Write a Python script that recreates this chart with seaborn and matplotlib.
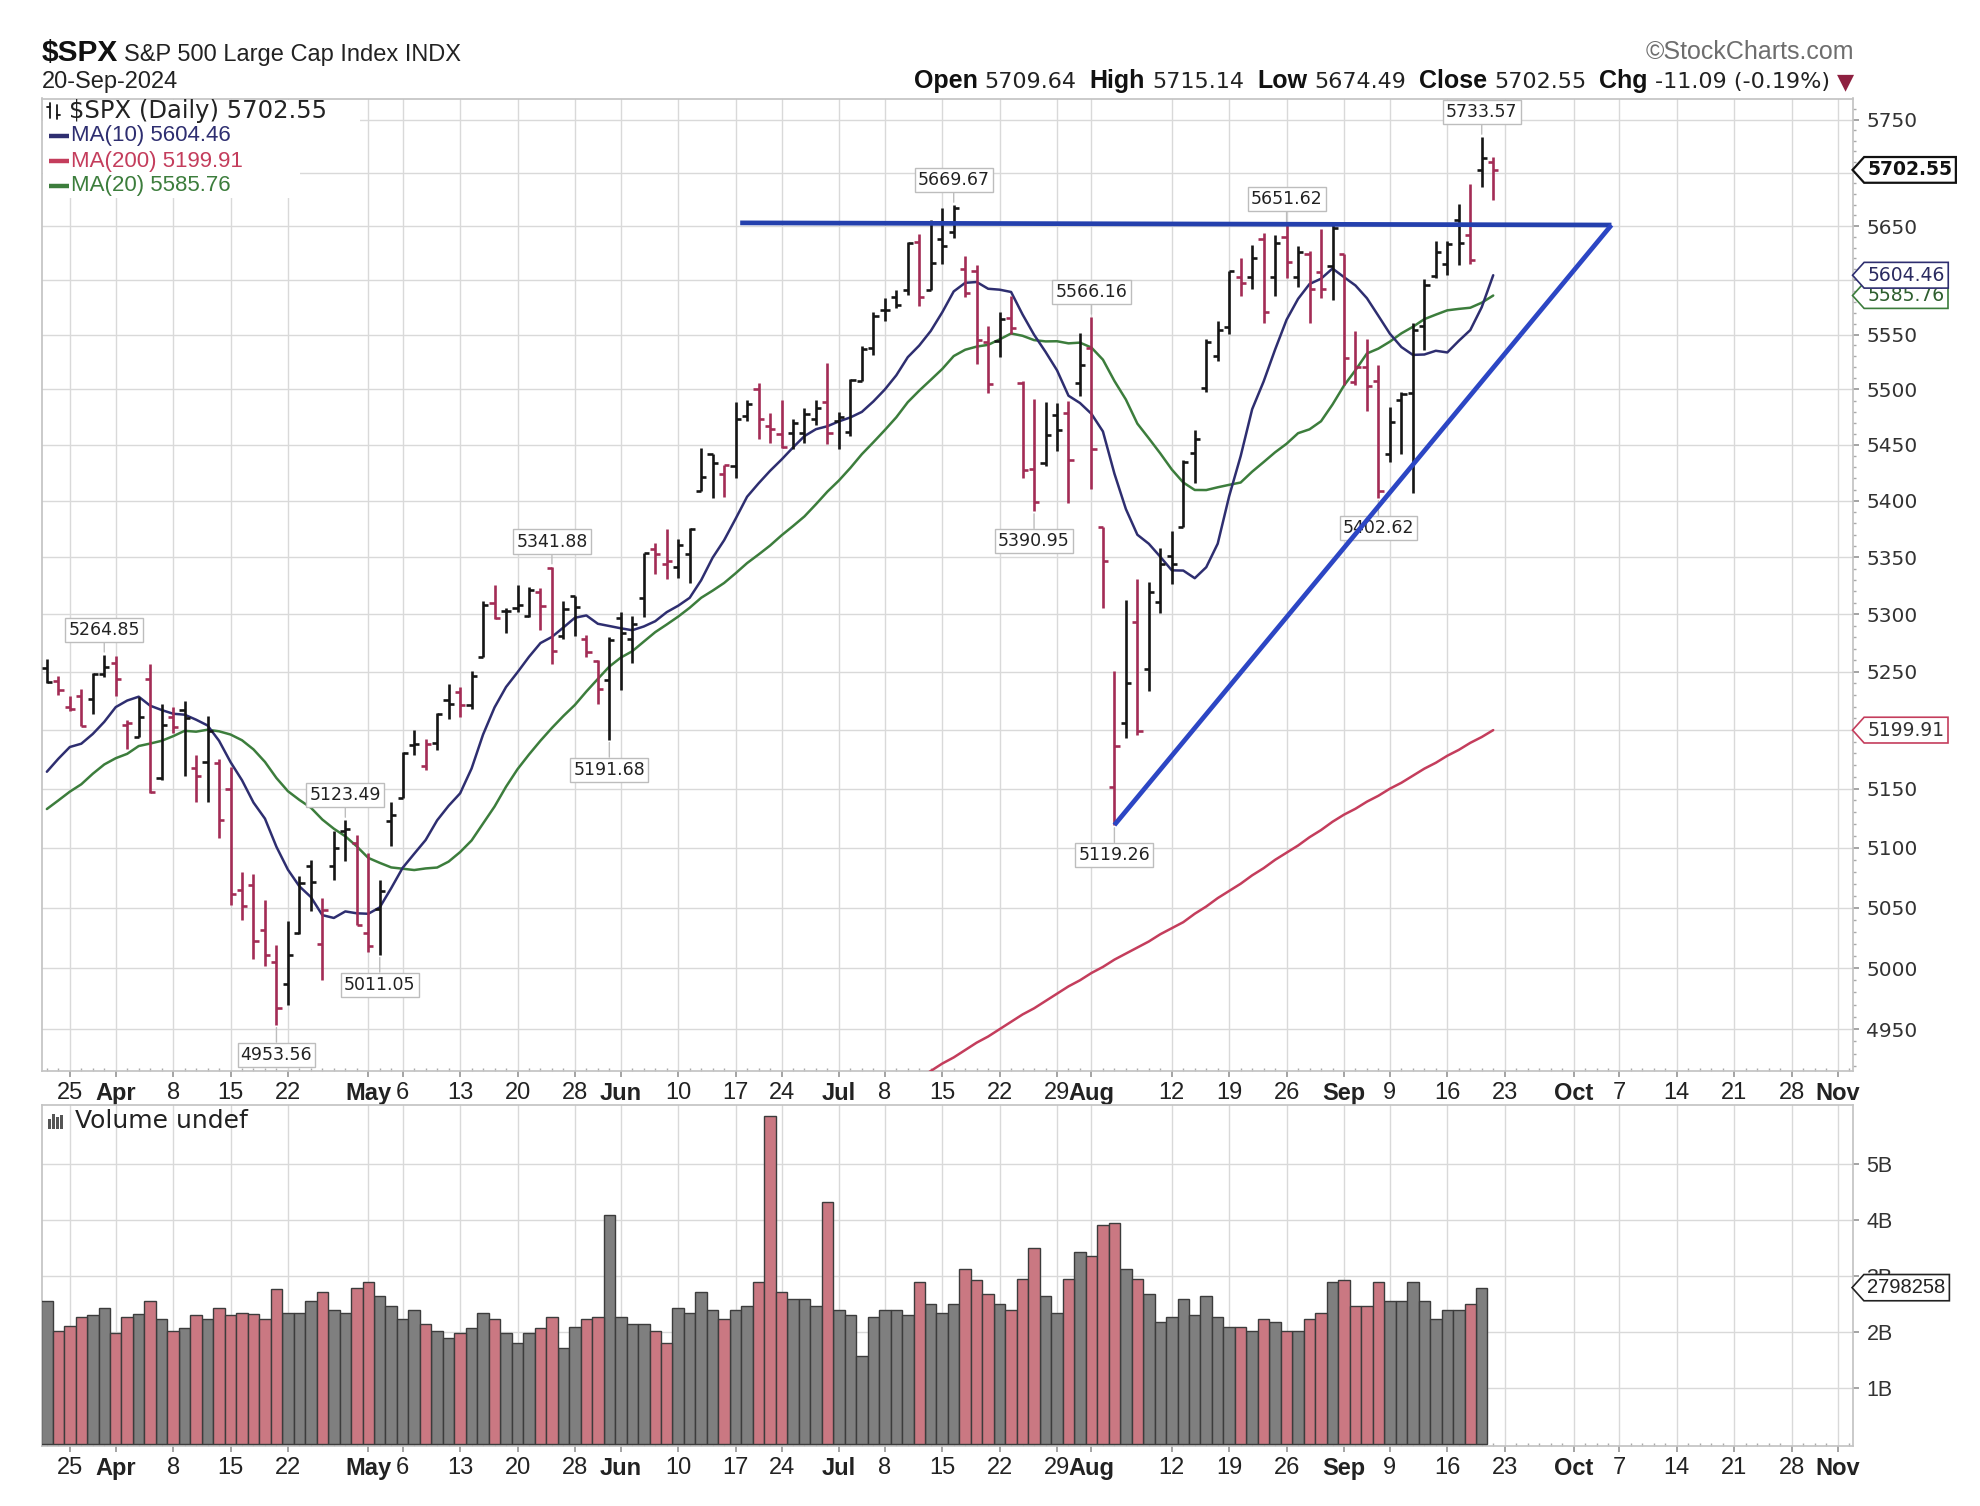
import numpy as np
import pandas as pd
import matplotlib
matplotlib.use("Agg")
import matplotlib.pyplot as plt
import seaborn as sns
from matplotlib.path import Path
from matplotlib.ticker import FixedLocator, NullFormatter

# ---------------- data ----------------
day_labels = ["Mar21","Mar22","Mar25","Mar26","Mar27","Mar28",
 "Apr1","Apr2","Apr3","Apr4","Apr5","Apr8","Apr9","Apr10","Apr11","Apr12","Apr15","Apr16","Apr17","Apr18","Apr19",
 "Apr22","Apr23","Apr24","Apr25","Apr26","Apr29","Apr30",
 "May1","May2","May3","May6","May7","May8","May9","May10","May13","May14","May15","May16","May17","May20","May21",
 "May22","May23","May24","May28","May29","May30","May31",
 "Jun3","Jun4","Jun5","Jun6","Jun7","Jun10","Jun11","Jun12","Jun13","Jun14","Jun17","Jun18","Jun20","Jun21",
 "Jun24","Jun25","Jun26","Jun27","Jun28",
 "Jul1","Jul2","Jul3","Jul5","Jul8","Jul9","Jul10","Jul11","Jul12","Jul15","Jul16","Jul17","Jul18","Jul19",
 "Jul22","Jul23","Jul24","Jul25","Jul26","Jul29","Jul30","Jul31",
 "Aug1","Aug2","Aug5","Aug6","Aug7","Aug8","Aug9","Aug12","Aug13","Aug14","Aug15","Aug16","Aug19","Aug20",
 "Aug21","Aug22","Aug23","Aug26","Aug27","Aug28","Aug29","Aug30",
 "Sep3","Sep4","Sep5","Sep6","Sep9","Sep10","Sep11","Sep12","Sep13","Sep16","Sep17","Sep18","Sep19","Sep20"]

opens = [5253.43,5242.48,5219.52,5228.85,5226.31,5248.03,
 5257.97,5204.29,5194.37,5244.05,5158.95,5211.37,5217.03,5167.88,5172.95,5171.51,5149.67,5064.59,5068.97,5031.52,5005.44,
 4987.33,5028.85,5084.86,5019.88,5084.65,5114.13,5103.78,
 5029.03,5049.32,5122.78,5142.42,5187.20,5168.98,5189.03,5225.49,5233.08,5221.10,5263.26,5310.07,5303.10,5305.35,5298.69,
 5319.28,5340.26,5281.45,5315.91,5278.73,5259.77,5243.21,
 5297.15,5278.24,5314.48,5357.80,5343.81,5341.22,5353.00,5409.13,5441.93,5424.08,5431.11,5476.15,5499.99,5466.77,
 5459.58,5460.73,5460.71,5473.59,5488.48,
 5471.08,5461.84,5507.44,5537.91,5572.75,5584.24,5591.26,5635.21,5590.76,5638.16,5644.09,5610.07,5608.56,5543.37,
 5544.45,5565.30,5505.84,5428.70,5433.67,5476.55,5478.73,5505.59,
 5537.84,5376.63,5151.14,5206.42,5293.13,5252.57,5311.00,5351.00,5376.98,5442.37,5501.13,5530.50,5557.23,5602.88,
 5603.09,5637.77,5602.97,5639.66,5602.89,5624.51,5607.30,5612.74,
 5623.89,5506.68,5520.08,5507.33,5442.07,5490.51,5496.42,5557.48,5603.34,5615.21,5655.51,5641.68,5702.63,5709.64]

highs = [5261.10,5246.09,5229.09,5235.16,5249.26,5264.85,
 5263.95,5208.34,5228.75,5256.59,5222.18,5219.57,5224.81,5178.43,5211.78,5175.03,5168.43,5079.84,5077.96,5056.66,5019.02,
 5038.84,5076.12,5089.48,5057.75,5114.62,5123.49,5110.83,
 5096.12,5073.21,5139.12,5181.00,5200.23,5191.95,5214.53,5239.66,5237.26,5250.37,5311.76,5325.49,5305.45,5325.32,5324.32,
 5323.18,5341.88,5311.65,5315.91,5282.27,5260.21,5280.33,
 5302.11,5298.80,5354.16,5362.35,5375.08,5365.79,5375.95,5447.25,5441.93,5432.39,5488.50,5490.38,5505.53,5478.31,
 5490.66,5472.88,5483.14,5490.81,5523.64,
 5479.55,5509.69,5539.27,5570.33,5583.11,5590.75,5635.39,5642.45,5655.56,5666.94,5669.67,5622.49,5614.05,5557.50,
 5570.36,5585.34,5508.04,5491.59,5488.32,5487.74,5489.46,5551.51,
 5566.16,5376.63,5250.89,5312.34,5330.64,5328.03,5358.00,5373.00,5436.50,5463.22,5546.23,5561.98,5608.30,5620.51,
 5632.68,5643.22,5641.82,5651.62,5631.18,5627.03,5646.95,5651.37,
 5623.89,5552.99,5546.30,5522.47,5484.20,5497.91,5560.41,5600.71,5636.27,5636.05,5670.81,5689.75,5733.57,5715.14]

lows = [5240.66,5229.87,5216.09,5203.42,5213.92,5245.82,
 5229.20,5184.05,5194.37,5146.06,5157.21,5197.35,5160.78,5138.70,5138.77,5107.94,5052.47,5039.83,5007.25,5001.89,4953.56,
 4969.40,5027.96,5047.02,4990.58,5073.14,5088.65,5035.31,
 5013.45,5011.05,5101.22,5142.42,5178.96,5165.86,5182.80,5209.68,5211.16,5217.98,5263.26,5296.19,5283.59,5302.40,5297.87,
 5286.01,5256.93,5278.39,5280.89,5262.70,5222.10,5191.68,
 5234.32,5257.63,5297.64,5335.36,5331.33,5331.52,5327.25,5409.13,5402.51,5403.75,5420.40,5471.32,5455.56,5452.03,
 5447.59,5446.56,5451.87,5467.54,5451.12,
 5446.53,5458.43,5507.42,5531.63,5562.51,5574.57,5586.44,5576.53,5590.44,5614.75,5639.02,5584.81,5522.81,5497.04,
 5529.04,5550.90,5419.98,5390.95,5430.70,5444.44,5398.26,5493.75,
 5410.42,5305.45,5119.26,5193.56,5195.54,5233.85,5301.00,5327.00,5376.98,5415.89,5497.87,5525.48,5550.74,5585.50,
 5591.57,5560.95,5585.16,5602.34,5593.48,5560.95,5583.71,5581.79,
 5504.33,5503.66,5480.08,5402.62,5434.49,5441.72,5406.96,5535.50,5601.65,5604.53,5614.05,5615.08,5686.42,5674.49]

closes = [5241.53,5234.18,5218.19,5203.58,5248.49,5254.35,
 5243.77,5205.81,5211.49,5147.21,5204.34,5202.39,5209.91,5160.64,5199.06,5123.41,5061.82,5051.41,5022.21,5011.12,4967.23,
 5010.60,5070.55,5071.63,5048.42,5099.96,5116.17,5035.69,
 5018.39,5064.20,5127.79,5180.74,5187.70,5187.67,5214.08,5222.68,5221.42,5246.68,5308.15,5297.10,5303.27,5308.13,5321.41,
 5307.01,5267.84,5304.72,5306.04,5266.95,5235.48,5277.51,
 5283.40,5291.34,5354.03,5352.96,5346.99,5360.79,5375.32,5421.03,5433.74,5431.60,5473.23,5487.03,5473.17,5464.62,
 5447.87,5469.30,5477.90,5482.87,5460.48,
 5475.09,5509.01,5537.02,5567.19,5572.85,5576.98,5633.91,5584.54,5615.35,5631.22,5667.20,5588.27,5544.59,5505.00,
 5564.41,5555.74,5427.13,5399.22,5459.10,5463.54,5436.44,5522.30,
 5446.68,5346.56,5186.33,5240.03,5199.50,5319.31,5344.16,5344.39,5434.43,5455.21,5543.22,5554.25,5608.25,5597.12,
 5620.85,5570.64,5634.61,5616.84,5625.80,5592.18,5591.96,5648.40,
 5528.93,5520.07,5503.41,5408.42,5471.05,5495.52,5554.13,5595.76,5626.02,5633.09,5634.58,5618.26,5713.64,5702.55]

# closes before the first visible bar (Feb 23 - Mar 20), used for the moving averages
prior_closes = [5088.80,5069.53,5078.18,5069.76,5096.27,5137.08,5130.95,5078.65,5104.76,5157.36,
 5123.69,5117.94,5175.27,5165.31,5150.48,5117.09,5149.42,5178.51,5224.62]

# volume in billions (Mar 21 - Sep 19)
volume_b = [2.56,2.02,2.11,2.28,2.31,2.44,
 1.98,2.28,2.32,2.56,2.23,2.02,2.07,2.31,2.23,2.44,2.31,2.35,2.32,2.23,2.77,
 2.35,2.35,2.56,2.72,2.40,2.35,2.80,
 2.89,2.65,2.47,2.23,2.40,2.14,2.02,1.90,1.98,2.07,2.35,2.23,1.98,1.81,1.98,
 2.07,2.28,1.72,2.10,2.23,2.28,4.09,
 2.28,2.14,2.14,2.02,1.81,2.44,2.35,2.72,2.40,2.23,2.40,2.47,2.89,5.86,
 2.72,2.60,2.60,2.47,4.33,
 2.40,2.31,1.57,2.28,2.40,2.40,2.31,2.89,2.51,2.35,2.51,3.14,2.93,2.68,
 2.51,2.40,2.96,3.50,2.65,2.35,2.96,3.43,
 3.37,3.92,3.96,3.13,2.96,2.68,2.19,2.28,2.60,2.31,2.65,2.28,2.10,2.10,
 2.02,2.23,2.19,2.02,2.02,2.23,2.35,2.89,
 2.93,2.47,2.47,2.89,2.56,2.56,2.89,2.56,2.23,2.40,2.40,2.51,2.798258]

# 200-day moving average (from bar index 75 onward)
ma200_first_index = 75
ma200 = [4905,4910,4916,4922,4927,4933,4939,4944,4950,4956,4962,4967,4973,4979,4985,4990,
 4996,5001,5007,5012,5017,5022,5028,5033,5038,5045,5051,5058,5064,5070,5077,5083,5090,
 5096,5102,5109,5115,5122,5128,5133,5139,5144,5150,5155,5161,5167,5172,5178,5183,5189,5194,5199.91]

tick_pos = [2,6,11,16,21,28,31,36,41,46,50,55,60,64,69,73,78,83,88,91,98,103,108,113,117,122,127,133,137,142,147,152,156]
tick_labels = ["25","Apr","8","15","22","May","6","13","20","28","Jun","10","17","24","Jul","8","15","22","29",
               "Aug","12","19","26","Sep","9","16","23","Oct","7","14","21","28","Nov"]
month_names = {"Apr","May","Jun","Jul","Aug","Sep","Oct","Nov"}
n_axis_days = 158

price_ticks = [4950,5000,5050,5100,5150,5200,5250,5300,5350,5400,5450,5500,5550,5600,5650,5700,5750]
# labels hidden behind the value tags in the reference are left blank
price_tick_labels = ["4950","5000","5050","5100","5150","","5250","5300","5350","5400","5450","5500","5550",
                     "","5650","","5750"]
volume_ticks = [1,2,3,4,5]
volume_tick_labels = ["1B","2B","3B","4B","5B"]

callout_idx = [5,20,26,29,44,49,79,86,91,93,108,116,125]
callout_val = [5264.85,4953.56,5123.49,5011.05,5341.88,5191.68,5669.67,5390.95,5566.16,5119.26,5651.62,5402.62,5733.57]
callout_side = ["above","below","above","below","above","below","above","below","above","below","above","below","above"]

resist_x = [60.4, 136.3]
resist_y = [5653.0, 5651.0]
support_x = [93.0, 136.3]
support_y = [5119.26, 5651.0]

# ---------------- derived ----------------
idx = np.arange(len(closes))
all_close = pd.Series(prior_closes + closes)
ma10 = all_close.rolling(10).mean().iloc[len(prior_closes):].to_numpy()
ma20 = all_close.rolling(20).mean().iloc[len(prior_closes):].to_numpy()
prev_close = np.r_[prior_closes[-1], np.array(closes[:-1])]
is_up = np.array(closes) >= prev_close

UP_C = "#151515"
DN_C = "#a32c55"
MA10_C = "#2e2e70"
MA20_C = "#3c7d3c"
MA200_C = "#c43d5c"
TREND_C = "#2c46c4"
GRID_C = "#d9d9d9"
VOL_UP = "#7f7f7f"
VOL_DN = "#d86a78"

# ---------------- figure ----------------
sns.set_theme(style="white")
plt.rcParams["font.family"] = ["DejaVu Sans"]
plt.rcParams["axes.edgecolor"] = "#c4c4c4"

W, H = 1980, 1506
fig = plt.figure(figsize=(W / 100, H / 100), dpi=100, facecolor="white")
P_L, P_R, P_T, P_B = 41.7, 1852.5, 98.5, 1071.0
V_T, V_B = 1105.0, 1446.0
ax = fig.add_axes([P_L / W, 1 - P_B / H, (P_R - P_L) / W, (P_B - P_T) / H])
axv = fig.add_axes([P_L / W, 1 - V_B / H, (P_R - P_L) / W, (V_B - V_T) / H])

NARROW = ["Liberation Sans Narrow", "Liberation Sans", "DejaVu Sans"]
ARIAL = ["Liberation Sans", "DejaVu Sans"]

# ---- price panel ----
ax.set_yscale("log")
ax.set_ylim(4916, 5770)
ax.set_xlim(-0.45, 157.3)

bar_cols = np.where(is_up, UP_C, DN_C)
ax.vlines(idx, lows, highs, colors=bar_cols, lw=1.9, zorder=4)
ax.hlines(opens, idx - 0.45, idx, colors=bar_cols, lw=1.9, zorder=4)
ax.hlines(closes, idx, idx + 0.45, colors=bar_cols, lw=1.9, zorder=4)

ma_df = pd.DataFrame({"idx": idx, "ma10": ma10, "ma20": ma20})
sns.lineplot(data=ma_df, x="idx", y="ma20", ax=ax, color=MA20_C, lw=1.8, zorder=3)
sns.lineplot(data=ma_df, x="idx", y="ma10", ax=ax, color=MA10_C, lw=1.8, zorder=3)
ma200_df = pd.DataFrame({"idx": np.arange(ma200_first_index, ma200_first_index + len(ma200)), "ma200": ma200})
sns.lineplot(data=ma200_df, x="idx", y="ma200", ax=ax, color=MA200_C, lw=1.8, zorder=3)

ax.plot(resist_x, resist_y, color="#2440ad", lw=3.4, solid_capstyle="butt", zorder=7)
ax.plot(support_x, support_y, color=TREND_C, lw=3.4, solid_capstyle="butt", zorder=7)

for i, v, side in zip(callout_idx, callout_val, callout_side):
    off = 25 if side == "above" else -30
    ax.annotate(f"{v:.2f}", xy=(i, v), xytext=(0, off), textcoords="offset pixels",
                ha="center", va="center", fontsize=12.5, color="#222222",
                bbox=dict(boxstyle="square,pad=0.18", fc="white", ec="#bdbdbd", lw=1.0),
                arrowprops=dict(arrowstyle="-", color="#bdbdbd", lw=1.0, shrinkA=0, shrinkB=2),
                zorder=6)

ax.set_xlabel("")
ax.set_ylabel("")
ax.yaxis.tick_right()
ax.yaxis.set_major_locator(FixedLocator(price_ticks))
ax.set_yticklabels(price_tick_labels)
ax.yaxis.set_minor_locator(FixedLocator(list(range(4920, 5770, 10))))
ax.yaxis.set_minor_formatter(NullFormatter())
ax.tick_params(axis="y", which="major", right=True, length=4, color="#999999", pad=6,
               labelsize=14.5, labelcolor="#333333")
ax.tick_params(axis="y", which="minor", right=True, length=2, color="#aaaaaa")
ax.set_xticks(tick_pos)
ax.set_xticklabels(tick_labels)
ax.xaxis.set_minor_locator(FixedLocator(list(range(n_axis_days))))
ax.tick_params(axis="x", which="major", bottom=True, length=4, color="#999999", pad=4,
               labelsize=17, labelcolor="#222222")
ax.tick_params(axis="x", which="minor", bottom=True, length=2.5, color="#aaaaaa", direction="in")
for lab in ax.get_xticklabels():
    lab.set_family(NARROW)
    if lab.get_text() in month_names:
        lab.set_fontweight("bold")
ax.grid(True, which="major", color=GRID_C, lw=1.0, zorder=0)
ax.set_axisbelow(True)


def tag_style(x0, y0, width, height, mutation_size):
    pad = 0.18 * mutation_size
    x0, y0 = x0 - pad, y0 - pad
    x1, y1 = x0 + width + 2 * pad, y0 + height + 2 * pad
    tip = (y1 - y0) * 0.45
    ym = (y0 + y1) / 2
    return Path([(x0, y0), (x1, y0), (x1, y1), (x0, y1), (x0 - tip, ym), (x0, y0)], closed=True)


def value_tag(axis, value, text, color, tcolor, weight="normal", lw=1.2, z=10):
    axis.annotate(text, xy=(1, value), xycoords=("axes fraction", "data"), xytext=(15, 0),
                  textcoords="offset pixels", ha="left", va="center", fontsize=13.5,
                  fontweight=weight, color=tcolor, annotation_clip=False,
                  bbox=dict(boxstyle=tag_style, fc="white", ec=color, lw=lw), zorder=z)


value_tag(ax, ma20[-1], f"{ma20[-1]:.2f}", MA20_C, "#2f5f2f", z=10)
value_tag(ax, ma10[-1], f"{ma10[-1]:.2f}", MA10_C, "#2a2a60", z=11)
value_tag(ax, ma200[-1], f"{ma200[-1]:.2f}", MA200_C, "#333333", z=10)
value_tag(ax, closes[-1], f"{closes[-1]:.2f}", "#111111", "#111111", weight="bold", lw=1.6, z=12)

# legend in the price panel
def afx(px):
    return (px - P_L) / (P_R - P_L)

def afy(py):
    return 1 - (py - P_T) / (P_B - P_T)

ax.add_patch(plt.Rectangle((afx(43), afy(198)), afx(300) - afx(43), afy(100) - afy(198),
                           transform=ax.transAxes, fc="white", ec="none", zorder=2))
ax.add_patch(plt.Rectangle((afx(43), afy(122)), afx(360) - afx(43), afy(100) - afy(122),
                           transform=ax.transAxes, fc="white", ec="none", zorder=2))
ax.plot([afx(50), afx(50)], [afy(103), afy(118)], transform=ax.transAxes, color=UP_C, lw=1.3, zorder=8)
ax.plot([afx(47), afx(50)], [afy(107), afy(107)], transform=ax.transAxes, color=UP_C, lw=1.3, zorder=8)
ax.plot([afx(57), afx(57)], [afy(105), afy(119)], transform=ax.transAxes, color=UP_C, lw=1.3, zorder=8)
ax.plot([afx(57), afx(60)], [afy(115), afy(115)], transform=ax.transAxes, color=UP_C, lw=1.3, zorder=8)
ax.text(afx(69), afy(111), r"\$SPX (Daily) " + f"{closes[-1]:.2f}", transform=ax.transAxes,
        va="center", ha="left", fontsize=17.5, color="#222222", zorder=9)
for py, lbl, val, col in [(136, "MA(10)", ma10[-1], MA10_C), (161, "MA(200)", ma200[-1], MA200_C),
                          (186, "MA(20)", ma20[-1], MA20_C)]:
    ax.plot([afx(49), afx(69)], [afy(py), afy(py)], transform=ax.transAxes, color=col, lw=3.2,
            solid_capstyle="butt", zorder=8)
    ax.text(afx(71), afy(py), f"{lbl} {val:.2f}", transform=ax.transAxes, va="center", ha="left",
            fontsize=16, family=NARROW, color=col, zorder=9)

# ---- volume panel ----
vol_df = pd.DataFrame({"idx": np.arange(len(volume_b)), "vol": volume_b,
                       "dir": np.where(is_up[:len(volume_b)], "up", "down")})
sns.barplot(data=vol_df, x="idx", y="vol", hue="dir", palette={"up": VOL_UP, "down": VOL_DN},
            native_scale=True, width=1.0, dodge=False, errorbar=None, legend=False,
            edgecolor="#3c3c3c", linewidth=1.0, ax=axv, zorder=3)
axv.set_xlim(-0.45, 157.3)
axv.set_ylim(-0.03, 6.06)
axv.set_xlabel("")
axv.set_ylabel("")
axv.yaxis.tick_right()
axv.set_yticks(volume_ticks)
axv.set_yticklabels(volume_tick_labels)
axv.tick_params(axis="y", which="major", right=True, length=4, color="#999999", pad=6,
                labelsize=15.5, labelcolor="#333333")
for lab in axv.get_yticklabels():
    lab.set_family(NARROW)
axv.set_xticks(tick_pos)
axv.set_xticklabels(tick_labels)
axv.xaxis.set_minor_locator(FixedLocator(list(range(n_axis_days))))
axv.tick_params(axis="x", which="major", bottom=True, length=4, color="#999999", pad=4,
                labelsize=17, labelcolor="#222222")
axv.tick_params(axis="x", which="minor", bottom=True, length=2.5, color="#aaaaaa", direction="in")
for lab in axv.get_xticklabels():
    lab.set_family(NARROW)
    if lab.get_text() in month_names:
        lab.set_fontweight("bold")
axv.grid(True, which="major", color=GRID_C, lw=1.0, zorder=0)
axv.set_axisbelow(True)
axv.annotate(f"{volume_b[-1] * 1e6:.0f}", xy=(1, volume_b[-1]), xycoords=("axes fraction", "data"),
             xytext=(15, 0), textcoords="offset pixels", ha="left", va="center", fontsize=14.5,
             family=NARROW, color="#222222", annotation_clip=False,
             bbox=dict(boxstyle=tag_style, fc="white", ec="#222222", lw=1.2), zorder=10)

def vfx(px):
    return (px - P_L) / (P_R - P_L)

def vfy(py):
    return 1 - (py - V_T) / (V_B - V_T)

for k, hh in enumerate([10, 15, 12, 14]):
    axv.add_patch(plt.Rectangle((vfx(48 + 4 * k), vfy(1129)), vfx(51) - vfx(48), vfy(1129 - hh) - vfy(1129),
                                transform=axv.transAxes, fc="#555555", ec="none", zorder=8))
axv.text(vfx(75), vfy(1121), "Volume undef", transform=axv.transAxes, va="center", ha="left",
         fontsize=18, color="#222222", zorder=9)

# ---- header ----
fig.text(42 / W, 1 - 61 / H, r"\$SPX", fontsize=21.5, fontweight="bold", family=ARIAL,
         color="#111111", va="baseline", ha="left")
fig.text(124 / W, 1 - 61 / H, "S&P 500 Large Cap Index INDX", fontsize=17, family=ARIAL,
         color="#222222", va="baseline", ha="left")
fig.text(42 / W, 1 - 88 / H, "20-Sep-2024", fontsize=17, family=ARIAL, color="#222222",
         va="baseline", ha="left")
fig.text(1854 / W, 1 - 59 / H, "\u00a9StockCharts.com", fontsize=18, family=ARIAL, color="#6e6e6e",
         va="baseline", ha="right")

renderer = fig.canvas.get_renderer()
runs = [("Open", "bold", "#111111", 7), ("5709.64", "normal", "#222222", 13),
        ("High", "bold", "#111111", 7), ("5715.14", "normal", "#222222", 13),
        ("Low", "bold", "#111111", 7), ("5674.49", "normal", "#222222", 13),
        ("Close", "bold", "#111111", 7), ("5702.55", "normal", "#222222", 13),
        ("Chg", "bold", "#111111", 7), ("-11.09 (-0.19%)", "normal", "#222222", 7),
        ("\u25bc", "normal", "#8e2040", 0)]
objs = []
total = 0.0
for s, wgt, col, gap in runs:
    if wgt == "bold":
        t = fig.text(0, 0, s, fontsize=18, fontweight="bold", family=ARIAL,
                     color=col, va="baseline", ha="left")
    else:
        t = fig.text(0, 0, s, fontsize=16, family=["DejaVu Sans"],
                     color=col, va="baseline", ha="left")
    w = t.get_window_extent(renderer=renderer).width
    objs.append((t, w, gap))
    total += w + gap
x = 1854 - total
for t, w, gap in objs:
    t.set_position((x / W, 1 - 88 / H))
    x += w + gap

fig.savefig("out.png", dpi=100, facecolor="white")
